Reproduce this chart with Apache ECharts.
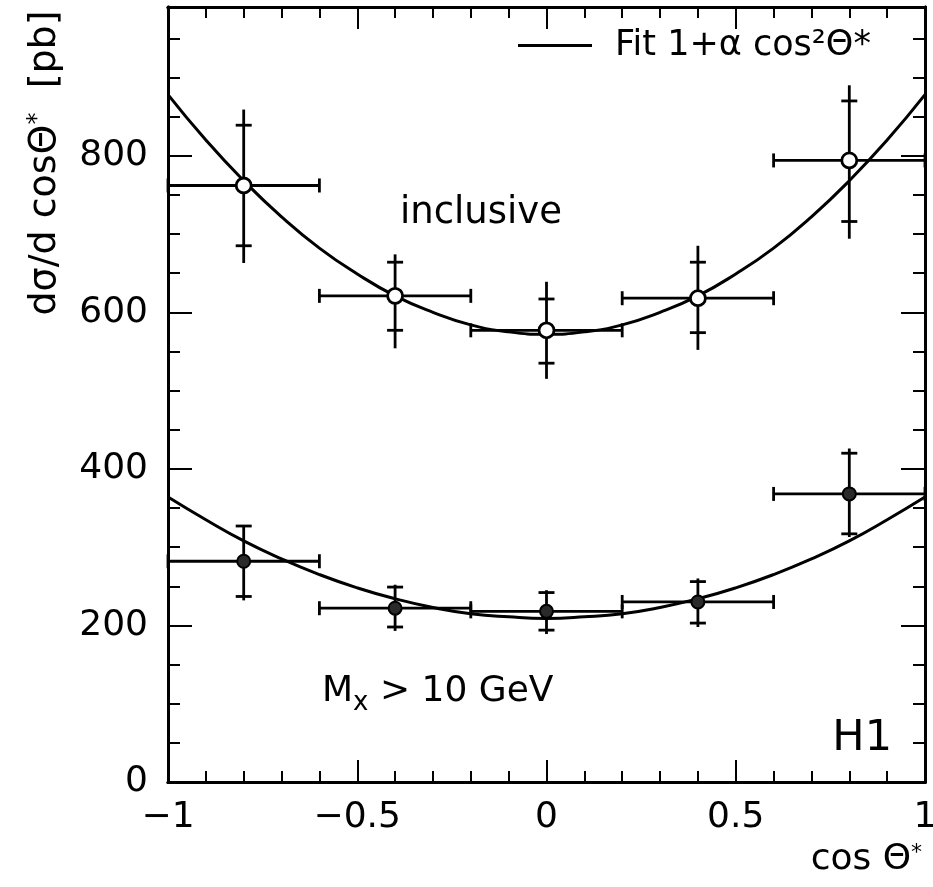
<!DOCTYPE html>
<html><head><meta charset="utf-8">
<script src="https://cdn.jsdelivr.net/npm/echarts@6/dist/echarts.min.js"></script>
<style>html,body{margin:0;padding:0;background:#fff;overflow:hidden}#c{width:933px;height:887px}</style>
</head><body><div id="c"></div>
<script>
// ---- data ----
const binCenters = [-0.8, -0.4, 0, 0.4, 0.8];
const binLow     = [-1.0, -0.6, -0.2, 0.2, 0.6];
const binHigh    = [-0.6, -0.2, 0.2, 0.6, 1.0];

const inclValue    = [762, 621, 577, 618, 794];
const inclStatLow  = [685, 577, 535, 574, 716];
const inclStatHigh = [839, 664, 617, 664, 870];
const inclTotLow   = [663, 554, 515, 552, 694];
const inclTotHigh  = [859, 674, 639, 685, 890];

const mxValue    = [282, 222, 218, 230, 368];
const mxStatLow  = [237, 198, 194, 203, 317];
const mxStatHigh = [327, 249, 242, 256, 420];
const mxTotLow   = [232, 193, 189, 198, 313];
const mxTotHigh  = [328, 252, 245, 260, 426];

const fitX    = [-1, -0.9, -0.8, -0.7, -0.6, -0.5, -0.4, -0.3, -0.2, -0.1, 0, 0.1, 0.2, 0.3, 0.4, 0.5, 0.6, 0.7, 0.8, 0.9, 1];
const inclFit = [878, 820, 768, 722, 682, 649, 621, 600, 584, 575, 572, 575, 584, 600, 621, 649, 682, 722, 768, 820, 878];
const mxFit   = [364, 335, 308, 285, 265, 248, 234, 223, 215, 211, 209, 211, 215, 223, 234, 248, 265, 285, 308, 335, 364];

const xTickValues = [-1, -0.5, 0, 0.5, 1];
const xTickLabels = ['\u22121', '\u22120.5', '0', '0.5', '1'];
const yTickValues = [0, 200, 400, 600, 800];
const yTickLabels = ['0', '200', '400', '600', '800'];

const legendName = 'Fit 1+\u03b1 cos\u00b2\u0398*';
const textInclusive = 'inclusive';
const textH1 = 'H1';

// ---- chart ----
const FONT = 'DejaVu Sans';
const chart = echarts.init(document.getElementById('c'), null, {renderer: 'canvas', width: 933, height: 887});

function errRender(params, api) {
  const x = api.value(0), y = api.value(1);
  const pC = api.coord([x, y]);
  const pL = api.coord([api.value(2), y]);
  const pH = api.coord([api.value(3), y]);
  const pSL = api.coord([x, api.value(4)]);
  const pSH = api.coord([x, api.value(5)]);
  const pTL = api.coord([x, api.value(6)]);
  const pTH = api.coord([x, api.value(7)]);
  const cap = 7, cross = 8;
  const ln = (x1, y1, x2, y2) => ({type: 'line', shape: {x1, y1, x2, y2}, style: {stroke: '#000', lineWidth: 2.8, fill: null}});
  return {type: 'group', children: [
    ln(pL[0], pC[1], pH[0], pC[1]),
    ln(pL[0], pC[1] - cap, pL[0], pC[1] + cap),
    ln(pH[0], pC[1] - cap, pH[0], pC[1] + cap),
    ln(pC[0], pTH[1], pC[0], pTL[1]),
    ln(pC[0] - cross, pSH[1], pC[0] + cross, pSH[1]),
    ln(pC[0] - cross, pSL[1], pC[0] + cross, pSL[1])
  ]};
}

function errData(vals, sl, sh, tl, th) {
  return binCenters.map((x, i) => [x, vals[i], binLow[i], binHigh[i], sl[i], sh[i], tl[i], th[i]]);
}

const axLine = {show: true, onZero: false, lineStyle: {color: '#000', width: 3}};
function xAx(pos, interval, len, labels) {
  return {
    type: 'value', position: pos, min: -1, max: 1, interval: interval,
    axisLine: axLine, splitLine: {show: false},
    axisTick: {show: true, inside: true, length: len, lineStyle: {color: '#000', width: 2}},
    axisLabel: labels ? {
      show: true, margin: 18, color: '#000', fontFamily: FONT, fontSize: 36,
      formatter: v => { const i = xTickValues.findIndex(t => Math.abs(t - v) < 1e-6); return i >= 0 ? xTickLabels[i] : ''; }
    } : {show: false}
  };
}
function yAx(pos, interval, len, labels) {
  return {
    type: 'value', position: pos, min: 0, max: 990, interval: interval,
    axisLine: axLine, splitLine: {show: false},
    axisTick: {show: true, inside: true, length: len, lineStyle: {color: '#000', width: 2}},
    axisLabel: labels ? {
      show: true, margin: 20, color: '#000', fontFamily: FONT, fontSize: 36,
      formatter: v => { const i = yTickValues.indexOf(v); return i >= 0 ? yTickLabels[i] : ''; }
    } : {show: false}
  };
}

chart.setOption({
  animation: false,
  backgroundColor: '#fff',
  grid: {left: 168, right: 8, top: 7, bottom: 105, containLabel: false, outerBoundsMode: 'none'},
  xAxis: [xAx('bottom', 0.1, 11, false), xAx('bottom', 0.5, 22, true), xAx('top', 0.1, 11, false), xAx('top', 0.5, 22, false)],
  yAxis: [yAx('left', 50, 12, false), yAx('left', 200, 24, true), yAx('right', 50, 12, false), yAx('right', 200, 24, false)],
  legend: {
    data: [{name: legendName, icon: 'rect'}], left: 513, top: 23, itemWidth: 74, itemHeight: 3, selectedMode: false,
    textStyle: {fontFamily: FONT, fontSize: 35, color: '#000', padding: [0, 0, 0, 18]}
  },
  series: [
    {name: legendName, type: 'line', data: fitX.map((x, i) => [x, inclFit[i]]), smooth: true, symbol: 'none',
     lineStyle: {color: '#000', width: 3}, itemStyle: {color: '#000'}, z: 2},
    {name: 'fit2', type: 'line', data: fitX.map((x, i) => [x, mxFit[i]]), smooth: true, symbol: 'none',
     lineStyle: {color: '#000', width: 3}, itemStyle: {color: '#000'}, z: 2},
    {name: 'inclErr', type: 'custom', renderItem: errRender, data: errData(inclValue, inclStatLow, inclStatHigh, inclTotLow, inclTotHigh), z: 3},
    {name: 'mxErr', type: 'custom', renderItem: errRender, data: errData(mxValue, mxStatLow, mxStatHigh, mxTotLow, mxTotHigh), z: 3},
    {name: 'incl', type: 'scatter', data: binCenters.map((x, i) => [x, inclValue[i]]), symbol: 'circle', symbolSize: 15,
     itemStyle: {color: '#fff', borderColor: '#000', borderWidth: 2.8, opacity: 1}, z: 5},
    {name: 'mx', type: 'scatter', data: binCenters.map((x, i) => [x, mxValue[i]]), symbol: 'circle', symbolSize: 13,
     itemStyle: {color: '#2a2a2a', borderColor: '#000', borderWidth: 2, opacity: 1}, z: 5}
  ],
  graphic: [
    {type: 'text', x: 45, y: 163, rotation: Math.PI / 2,
     style: {text: '{a|d\u03c3/d cos\u0398}{b|*}{a|  [pb]}', textAlign: 'center', textVerticalAlign: 'middle',
       rich: {a: {fontFamily: FONT, fontSize: 38, fill: '#000', color: '#000'}, b: {fontFamily: FONT, fontSize: 24, fill: '#000', color: '#000', verticalAlign: 'top', lineHeight: 30}}}},
    {type: 'text', x: 922, y: 860,
     style: {text: 'cos \u0398{b|*}', textAlign: 'right', textVerticalAlign: 'middle', fontFamily: FONT, fontSize: 36, fill: '#000',
       rich: {b: {fontFamily: FONT, fontSize: 22, fill: '#000', verticalAlign: 'top'}}}},
    {type: 'text', x: 400, y: 213,
     style: {text: textInclusive, textAlign: 'left', textVerticalAlign: 'middle', fontFamily: FONT, fontSize: 37, fill: '#000'}},
    {type: 'text', x: 322, y: 692,
     style: {text: 'M{s|x} > 10 GeV', textAlign: 'left', textVerticalAlign: 'middle', fontFamily: FONT, fontSize: 36, fill: '#000',
       rich: {s: {fontFamily: FONT, fontSize: 26, fill: '#000', padding: [22, 0, 0, 0]}}}},
    {type: 'text', x: 892, y: 739,
     style: {text: textH1, textAlign: 'right', textVerticalAlign: 'middle', fontFamily: FONT, fontSize: 43, fill: '#000'}}
  ]
});
</script></body></html>
